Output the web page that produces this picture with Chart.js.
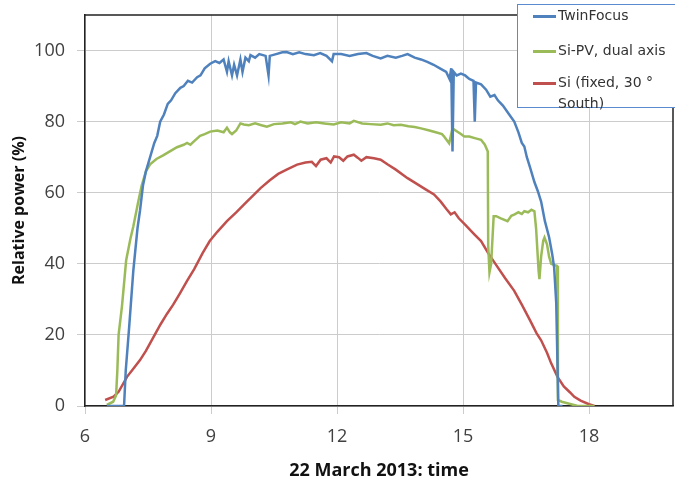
<!DOCTYPE html>
<html>
<head>
<meta charset="utf-8">
<script src="https://cdn.jsdelivr.net/npm/chart.js@4"></script>
<style>
  html, body { margin: 0; padding: 0; background: #fff; overflow: hidden; }
  #wrap { position: relative; width: 675px; height: 484px; }
  #legend {
    position: absolute; left: 517px; top: 4px; width: 170px; height: 102px;
    background: #fff; border: 1.5px solid #5a8ad0;
    font: 14px "DejaVu Sans", Verdana, sans-serif; color: #333;
  }
  #legend .item { position: absolute; left: 15px; line-height: 21px; white-space: nowrap; }
  #legend .swatch { display: inline-block; width: 23px; height: 3px; vertical-align: middle; margin-right: 2px; }
</style>
</head>
<body>
<div id="wrap">
  <canvas id="powerChart"></canvas>
  <div id="legend"></div>
</div>
<script>
// TwinFocus
const twinTime = [6.52, 6.93, 6.97, 7.05, 7.15, 7.25, 7.31, 7.38, 7.45, 7.55, 7.65, 7.72, 7.79, 7.88, 7.97, 8.05, 8.15, 8.27, 8.35, 8.45,
  8.55, 8.67, 8.75, 8.85, 8.98, 9.1, 9.2, 9.3, 9.38, 9.42, 9.5, 9.55, 9.62, 9.7, 9.75, 9.82, 9.9, 9.94, 10.05, 10.15,
  10.3, 10.37, 10.4, 10.55, 10.7, 10.8, 10.95, 11.1, 11.25, 11.45, 11.6, 11.75, 11.88, 11.92, 12.1, 12.3, 12.5, 12.7, 12.85, 13.04,
  13.2, 13.4, 13.55, 13.68, 13.85, 14.0, 14.15, 14.3, 14.45, 14.6, 14.68, 14.72, 14.75, 14.78, 14.85, 14.95, 15.05, 15.15, 15.25, 15.28,
  15.31, 15.43, 15.55, 15.65, 15.75, 15.83, 15.95, 16.1, 16.22, 16.32, 16.4, 16.46, 16.52, 16.6, 16.7, 16.78, 16.86, 16.95, 17.05, 17.12,
  17.17, 17.22, 17.27, 17.37];
const twinPower = [0, 0, 10, 22, 38, 50, 55, 62, 66, 70, 74, 76, 80, 82, 85, 86, 88, 89.5, 90, 91.5,
  91, 92.5, 93, 95, 96.3, 97, 96.5, 97.5, 94, 97, 93, 96, 93, 97.5, 94, 98, 97, 98.7, 98, 99,
  98.5, 93, 98.5, 99, 99.5, 99.6, 99, 99.5, 99, 98.7, 99.3, 98.5, 97, 99, 99, 98.5, 99, 99.3, 98.5, 97.8,
  98.5, 98, 98.5, 99, 98, 97.5, 96.8, 96, 95, 94, 92, 95, 71.6, 94, 93, 93.5, 93, 92, 91.5, 80,
  91, 90.5, 89, 87, 87.5, 86, 84.5, 82, 80, 77, 74, 73, 70, 67, 63, 60.5, 57.5, 52, 47.5, 43,
  39, 29, 0, 0];

// Si-PV, dual axis
const dualTime = [6.52, 6.67, 6.74, 6.77, 6.8, 6.88, 6.98, 7.08, 7.15, 7.27, 7.35, 7.45, 7.55, 7.7, 7.86, 8.0, 8.19, 8.35, 8.43, 8.51,
  8.6, 8.74, 8.85, 8.98, 9.15, 9.3, 9.38, 9.45, 9.5, 9.6, 9.7, 9.78, 9.9, 10.05, 10.2, 10.33, 10.5, 10.7, 10.9, 11.0,
  11.13, 11.3, 11.5, 11.7, 11.92, 12.1, 12.3, 12.4, 12.6, 12.8, 13.04, 13.2, 13.35, 13.52, 13.7, 13.85, 14.0, 14.2, 14.35, 14.5,
  14.55, 14.67, 14.75, 14.85, 14.95, 15.03, 15.15, 15.3, 15.43, 15.52, 15.59, 15.6, 15.63, 15.67, 15.73, 15.79, 15.9, 16.06, 16.15, 16.23,
  16.32, 16.4, 16.46, 16.55, 16.63, 16.7, 16.74, 16.8, 16.82, 16.86, 16.91, 16.94, 17.0, 17.05, 17.1, 17.24, 17.26, 17.35, 17.73, 18.13];
const dualPower = [0.3, 1.2, 3, 10, 20, 28, 41, 47, 50.5, 57.6, 62, 66, 68, 69.5, 70.5, 71.5, 72.8, 73.5, 74, 73.5,
  74.5, 76, 76.5, 77.2, 77.5, 77, 78.3, 77, 76.5, 77.5, 79.5, 79.2, 79, 79.5, 79, 78.6, 79.3, 79.5, 79.8, 79.3,
  80, 79.5, 79.8, 79.5, 79.2, 79.8, 79.5, 80.2, 79.5, 79.3, 79.1, 79.5, 79, 79.1, 78.7, 78.5, 78.1, 77.5, 77, 76.5,
  75.8, 73.9, 78.1, 77.3, 76.5, 75.8, 75.8, 75.3, 74.9, 73.5, 71.6, 45, 37.6, 40, 53.4, 53.4, 52.8, 52, 53.5, 53.9,
  54.5, 54, 54.8, 54.5, 55.2, 54.8, 50, 38, 35.7, 42, 46.5, 47.4, 45.5, 42, 40, 39.4, 1.7, 1.2, 0, 0];

// Si (fixed, 30 ° South)
const fixedTime = [6.48, 6.68, 6.8, 7.0, 7.15, 7.31, 7.45, 7.63, 7.8, 7.95, 8.1, 8.25, 8.43, 8.6, 8.8, 8.97, 9.15, 9.38, 9.6, 9.86,
  10.0, 10.18, 10.4, 10.6, 10.8, 11.05, 11.25, 11.4, 11.5, 11.61, 11.75, 11.85, 11.93, 12.05, 12.15, 12.25, 12.4, 12.5, 12.58, 12.7,
  12.88, 13.04, 13.2, 13.4, 13.68, 13.9, 14.1, 14.31, 14.47, 14.6, 14.71, 14.8, 14.9, 15.05, 15.27, 15.43, 15.6, 15.8, 16.0, 16.22,
  16.4, 16.6, 16.75, 16.86, 17.0, 17.1, 17.25, 17.4, 17.55, 17.65, 17.8, 18.0, 18.13];
const fixedPower = [1.7, 2.6, 4, 8.2, 10.5, 12.9, 15.5, 19.4, 23, 25.9, 28.5, 31.5, 35.2, 38.5, 43, 46.4, 49, 52, 54.5, 57.6,
  59.2, 61.3, 63.5, 65.3, 66.5, 67.9, 68.5, 68.7, 67.5, 69.3, 69.7, 68.5, 70.2, 70, 69, 70.2, 70.7, 69.8, 69, 70,
  69.7, 69.3, 68, 66.5, 64.1, 62.5, 61, 59.5, 57.5, 55.5, 53.9, 54.5, 52.8, 51, 48.3, 46.4, 43, 39.5, 36, 32.4,
  28.5, 24, 20.5, 18.5, 15, 12, 8.2, 5.5, 3.8, 2.6, 1.5, 0.5, 0];

const seriesNames = ['TwinFocus', 'Si-PV, dual axis', 'Si (fixed, 30 °\nSouth)'];
const seriesColors = ['#4f81bd', '#9bbb59', '#c0504d'];

function toPoints(xs, ys) {
  return xs.map((x, i) => ({ x: x, y: ys[i] }));
}

// top and right edges of the plot frame
const frame = {
  id: 'frame',
  afterDraw(chart) {
    const { ctx, chartArea: a } = chart;
    ctx.save();
    ctx.strokeStyle = '#222';
    ctx.lineWidth = 1.5;
    ctx.beginPath();
    ctx.moveTo(a.left, a.top);
    ctx.lineTo(a.right, a.top);
    ctx.lineTo(a.right, a.bottom);
    ctx.stroke();
    ctx.restore();
  }
};

const tickFont = { family: '"Open Sans", sans-serif', size: 18 };

const ctx = document.getElementById('powerChart');
new Chart(ctx, {
  type: 'line',
  data: {
    datasets: [
      { label: seriesNames[0], data: toPoints(twinTime, twinPower), borderColor: seriesColors[0] },
      { label: seriesNames[1], data: toPoints(dualTime, dualPower), borderColor: seriesColors[1] },
      { label: seriesNames[2], data: toPoints(fixedTime, fixedPower), borderColor: seriesColors[2] }
    ]
  },
  options: {
    responsive: true,
    maintainAspectRatio: false,
    animation: false,
    layout: { padding: { top: 15, right: 2 } },
    elements: {
      line: { borderWidth: 2.5, tension: 0 },
      point: { radius: 0 }
    },
    plugins: { legend: { display: false }, tooltip: { enabled: false } },
    scales: {
      x: {
        type: 'linear', min: 6, max: 20,
        afterFit(scale) { scale.height = 78; scale.paddingLeft = 0; scale.paddingRight = 0; },
        ticks: { stepSize: 3, includeBounds: false, color: '#404040', font: tickFont, padding: 12, maxRotation: 0 },
        grid: { color: '#cccccc', tickLength: 8 },
        border: { color: '#222', width: 1.5 },
        title: {
          display: true, text: '22 March 2013: time', color: '#111',
          font: { family: '"Open Sans", sans-serif', size: 18, weight: 'bold' },
          padding: { top: 0, bottom: 2 }
        }
      },
      y: {
        min: 0, max: 110,
        afterFit(scale) { scale.width = 85; scale.paddingTop = 0; scale.paddingBottom = 0; },
        ticks: { stepSize: 20, includeBounds: false, color: '#404040', font: tickFont, padding: 12 },
        grid: { color: '#cccccc', tickLength: 8 },
        border: { color: '#222', width: 1.5 },
        title: {
          display: true, text: 'Relative power (%)', color: '#111',
          font: { family: '"Open Sans", sans-serif', size: 16, weight: 'bold' },
          padding: { top: 10, bottom: 0 }
        }
      }
    }
  },
  plugins: [frame]
});

// legend box overlapping the top right corner
const legendEl = document.getElementById('legend');
const legendTops = [0, 35, 67];
seriesNames.forEach((name, i) => {
  const item = document.createElement('div');
  item.className = 'item';
  item.style.top = legendTops[i] + 'px';
  const lines = name.split('\n');
  item.innerHTML = '<span class="swatch" style="background:' + seriesColors[i] + '"></span>' + lines[0] +
    (lines[1] ? '<br><span style="margin-left:25px">' + lines[1] + '</span>' : '');
  legendEl.appendChild(item);
});
</script>
</body>
</html>
